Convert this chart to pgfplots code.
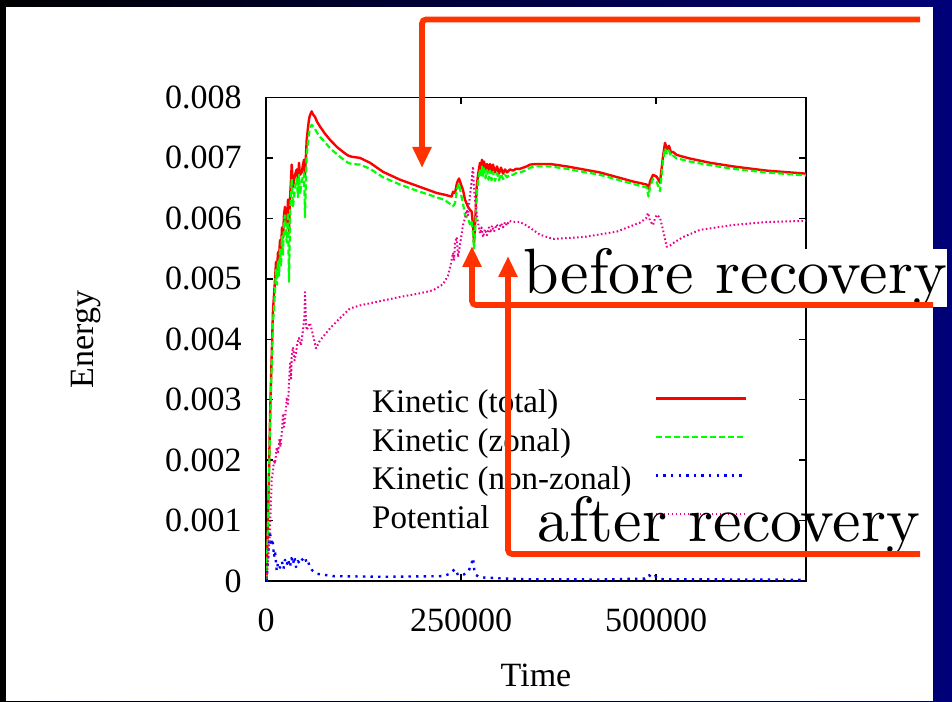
\documentclass[border=0pt]{standalone}
\usepackage{fontspec}
\setmainfont{Liberation Serif}
\newfontfamily\lmfont{lmroman10-regular}[Extension=.otf]
\usepackage{pgfplots}
\pgfplotsset{compat=1.18}
\usetikzlibrary{arrows.meta}

\definecolor{navybg}{RGB}{0,0,120}
\definecolor{arrowred}{RGB}{255,51,0}

\begin{document}
\begin{tikzpicture}[x=0.5pt,y=0.5pt]
\useasboundingbox (0,0) rectangle (952,701);
\shade[left color=black, right color=navybg] (0,0) rectangle (952,701);
\fill[white] (6,0) rectangle (933,694);

\begin{axis}[
    at={(133pt,60pt)}, anchor=south west,
    scale only axis,
    width=270pt, height=241.75pt,
    xmin=0, xmax=692000,
    ymin=0, ymax=0.008,
    axis line style={line width=0.7pt},
    tick style={black, line width=0.7pt},
    major tick length=3.5pt,
    tick align=inside,
    scaled ticks=false,
    xtick={0,250000,500000},
    xticklabels={0,250000,500000},
    ytick={0,0.001,0.002,0.003,0.004,0.005,0.006,0.007,0.008},
    yticklabels={0,0.001,0.002,0.003,0.004,0.005,0.006,0.007,0.008},
    tick label style={font=\fontsize{17}{20}\selectfont, inner sep=0pt},
    yticklabel style={xshift=-12pt},
    xticklabel style={yshift=-13.5pt},
    xlabel={Time}, ylabel={Energy},
    every axis x label/.style={at={(axis description cs:0.5,-0.219)}, anchor=base,
        font=\fontsize{17}{20}\selectfont},
    every axis y label/.style={at={(axis description cs:-0.333,0.5)}, rotate=90, anchor=center,
        font=\fontsize{17}{20}\selectfont},
    legend cell align=left,
    legend plot pos=right,
    legend image code/.code={\draw[#1] (0pt,4.5pt) -- (45pt,4.5pt);},
    legend style={draw=none, fill=none, at={(axis description cs:0.196,0.399)},
        anchor=north west, inner sep=0pt, row sep=0pt, column sep=11.5pt,
        font=\fontsize{16.5}{19}\selectfont,
        nodes={inner sep=0pt, text height=12.2pt, text depth=7pt}},
]
% kinetic energy, total
\addplot[red, line width=1.2pt, line join=round] coordinates {
(640,0) (2560,0.00100) (3840,0.00183) (5130,0.00266) (6410,0.00332) (7690,0.00390)
(8970,0.00448) (10250,0.00473) (11530,0.00498) (12820,0.00528) (14100,0.00515)
(15380,0.00544) (16660,0.00535) (17940,0.00564) (19220,0.00548) (20500,0.00585)
(21780,0.00568) (23070,0.00606) (24350,0.00619) (25630,0.00601) (26910,0.00589)
(28190,0.00631) (29470,0.00576) (30760,0.00631) (32040,0.00664) (32940,0.00689)
(34600,0.00652) (37160,0.00672) (39340,0.00681) (41010,0.00664) (42290,0.00692)
(43570,0.00672) (45750,0.00676) (47420,0.00689) (48700,0.00697) (49980,0.00672)
(52160,0.00730) (53820,0.00750) (55100,0.00764) (56390,0.00771) (58560,0.00777)
(60230,0.00772) (62790,0.00768) (65360,0.00760) (69200,0.00752) (75610,0.00740)
(82020,0.00730) (90990,0.00718) (98680,0.00710) (105080,0.00704) (109820,0.00702)
(120460,0.00700) (133280,0.00692) (149940,0.00677) (171720,0.00664) (197350,0.00652)
(218750,0.00642) (229390,0.00639) (237970,0.00636) (239640,0.00644) (242200,0.00642)
(244770,0.00659) (247330,0.00666) (249890,0.00656) (252460,0.00647) (255020,0.00631)
(258860,0.00619) (261430,0.00614) (263600,0.00611) (265270,0.00589) (266550,0.00559)
(268470,0.00606) (270010,0.00652) (271680,0.00672) (274240,0.00692) (275520,0.00681)
(276800,0.00697) (278090,0.00684) (279370,0.00694) (281290,0.00681) (283210,0.00690)
(285140,0.00679) (287060,0.00690) (288980,0.00677) (290900,0.00689) (293460,0.00676)
(296030,0.00686) (298590,0.00674) (301150,0.00684) (303720,0.00674) (306280,0.00681)
(308840,0.00676) (312690,0.00681) (316530,0.00679) (320380,0.00682) (325500,0.00682)
(334090,0.00686) (338320,0.00689) (346900,0.00690) (363950,0.00690) (385350,0.00686)
(428020,0.00676) (470310,0.00661) (487870,0.00656) (490180,0.00649) (492100,0.00661)
(495950,0.00672) (500690,0.00669) (504920,0.00659) (506840,0.00681) (508760,0.00702)
(511320,0.00725) (513890,0.00714) (516450,0.00720) (519020,0.00709) (521580,0.00710)
(526320,0.00705) (534400,0.00702) (543370,0.00699) (569000,0.00692) (598470,0.00686)
(641650,0.00679) (692010,0.00674)
};
% kinetic energy, zonal
\addplot[green, line width=1.1pt, dash pattern=on 3pt off 1.5pt, line join=round] coordinates {
(640,0) (2560,0.00090) (3840,0.00170) (5130,0.00250) (6410,0.00315) (7690,0.00370)
(8970,0.00430) (10250,0.00450) (11530,0.00480) (12820,0.00515) (14100,0.00490)
(15380,0.00530) (16660,0.00505) (17940,0.00550) (19220,0.00520) (20500,0.00570)
(21780,0.00540) (23070,0.00595) (24350,0.00605) (25630,0.00570) (26910,0.00560)
(28190,0.00610) (29470,0.00495) (30760,0.00600) (32040,0.00640) (32940,0.00665)
(34600,0.00620) (37160,0.00650) (39340,0.00665) (41010,0.00635) (42290,0.00672)
(43570,0.00640) (45750,0.00660) (47420,0.00670) (48700,0.00675) (49980,0.00602)
(52160,0.00705) (53820,0.00725) (55100,0.00740) (56390,0.00750) (58560,0.00755)
(60230,0.00752) (62790,0.00748) (65360,0.00742) (69200,0.00735) (75610,0.00726)
(82020,0.00716) (90990,0.00706) (98680,0.00698) (105080,0.00692) (109820,0.00690)
(120460,0.00689) (133280,0.00682) (149940,0.00668) (171720,0.00656) (197350,0.00644)
(218750,0.00635) (229390,0.00630) (237970,0.00622) (239640,0.00620) (242200,0.00625)
(244770,0.00648) (247330,0.00658) (249890,0.00640) (252460,0.00625) (255020,0.00605)
(258860,0.00600) (261430,0.00590) (263600,0.00596) (265270,0.00575) (266550,0.00550)
(268470,0.00590) (270010,0.00640) (271680,0.00660) (274240,0.00682) (275520,0.00668)
(276800,0.00686) (278090,0.00670) (279370,0.00683) (281290,0.00666) (283210,0.00680)
(285140,0.00664) (287060,0.00679) (288980,0.00663) (290900,0.00677) (293460,0.00662)
(296030,0.00675) (298590,0.00663) (301150,0.00674) (303720,0.00665) (306280,0.00672)
(308840,0.00668) (312690,0.00673) (316530,0.00672) (320380,0.00675) (325500,0.00676)
(334090,0.00680) (338320,0.00684) (346900,0.00686) (363950,0.00686) (385350,0.00682)
(428020,0.00672) (470310,0.00657) (487870,0.00651) (490180,0.00636) (492100,0.00652)
(495950,0.00665) (500690,0.00660) (504920,0.00645) (506840,0.00670) (508760,0.00695)
(511320,0.00716) (513890,0.00706) (516450,0.00712) (519020,0.00702) (521580,0.00704)
(526320,0.00699) (534400,0.00697) (543370,0.00694) (569000,0.00688) (598470,0.00682)
(641650,0.00676) (692010,0.00671)
};
% kinetic energy, non-zonal
\addplot[blue, line width=1.2pt, dash pattern=on 1.2pt off 2.6pt, line join=round] coordinates {
(640,0) (2560,0.00033) (3840,0.00060) (5130,0.00083) (6410,0.00058) (7690,0.00070)
(8970,0.00061) (10250,0.00040) (11530,0.00050) (13710,0.00017) (15380,0.00030)
(17940,0.00022) (20500,0.00032) (22430,0.00020) (24350,0.00035) (26530,0.00026)
(28190,0.00036) (30760,0.00023) (32680,0.00038) (34600,0.00028) (36520,0.00040)
(38450,0.00023) (41010,0.00033) (43570,0.00028) (46130,0.00035) (49980,0.00040)
(51900,0.00030) (53820,0.00033) (56390,0.00022) (58950,0.00018) (64970,0.00012)
(85860,0.00008) (149940,0.00007) (226830,0.00008) (235800,0.00012) (242200,0.00020)
(246050,0.00010) (252460,0.00010) (258860,0.00015) (262710,0.00025) (265270,0.00038)
(267190,0.00015) (269120,0.00010) (274240,0.00006) (325500,0.00003) (428020,0.000025)
(485690,0.00004) (490810,0.00010) (494660,0.00005) (498510,0.00008) (504920,0.00003)
(692010,0.00002)
};
% potential energy
\addplot[magenta, line width=1pt, dash pattern=on 0.8pt off 1.2pt, line join=round] coordinates {
(900,0.00005) (2560,0.00033) (5130,0.00083) (7300,0.00166) (8970,0.00183)
(10250,0.00200) (11530,0.00194) (13710,0.00221) (15380,0.00212) (17300,0.00235)
(18580,0.00222) (20120,0.00244) (21780,0.00277) (23070,0.00255) (24350,0.00266)
(26530,0.00304) (28190,0.00290) (29470,0.00330) (30760,0.00360) (32040,0.00335)
(32940,0.00370) (34600,0.00387) (36520,0.00365) (38450,0.00378) (40370,0.00395)
(42290,0.00402) (44850,0.00390) (47420,0.00415) (49340,0.00440) (49980,0.00478)
(51260,0.00430) (52160,0.00415) (53820,0.00420) (56390,0.00427) (60230,0.00407)
(64080,0.00385) (69200,0.00398) (82020,0.00418) (94830,0.00435) (107650,0.00451)
(120460,0.00456) (146090,0.00463) (171720,0.00470) (197350,0.00476) (214010,0.00481)
(226830,0.00491) (233240,0.00505) (237080,0.00526) (239640,0.00543) (240920,0.00530)
(242200,0.00559) (244380,0.00569) (246050,0.00536) (248610,0.00556) (252460,0.00589)
(255020,0.00600) (257190,0.00614) (258860,0.00605) (261430,0.00639) (263350,0.00660)
(265270,0.00686) (266550,0.00650) (267840,0.00631) (269760,0.00610) (271680,0.00593)
(274240,0.00575) (276160,0.00585) (278090,0.00569) (280650,0.00582) (283210,0.00572)
(285780,0.00585) (287700,0.00576) (289620,0.00588) (292180,0.00578) (295640,0.00590)
(298590,0.00582) (301150,0.00592) (303720,0.00585) (306280,0.00594) (308840,0.00588)
(311400,0.00596) (316530,0.00594) (325500,0.00594) (334090,0.00588) (351130,0.00573)
(367790,0.00566) (406240,0.00569) (449420,0.00578) (479280,0.00593) (486970,0.00600)
(489530,0.00609) (492100,0.00596) (495950,0.00589) (498510,0.00600) (501070,0.00606)
(504920,0.00601) (508760,0.00581) (513500,0.00553) (517730,0.00555) (521580,0.00559)
(534400,0.00569) (556190,0.00581) (598470,0.00589) (641650,0.00594) (692010,0.00596)
};
\legend{Kinetic (total), Kinetic (zonal), Kinetic (non-zonal), Potential}
\end{axis}

% annotations
\node[anchor=base west, inner sep=0pt, fill=white, font=\lmfont\fontsize{32}{36}\selectfont] at (523,407) {before recovery};
\node[anchor=base west, inner sep=0pt, font=\lmfont\fontsize{32}{36}\selectfont] at (537,159) {after recovery};
\draw[arrowred, line width=2.85pt, rounded corners=2pt, -{Triangle[width=9pt,length=10.5pt]}]
    (920,681.5) -- (422,681.5) -- (422,533);
\draw[arrowred, line width=2.85pt, rounded corners=2pt, -{Triangle[width=9pt,length=10.5pt]}]
    (933,396) -- (472,396) -- (472,455);
\draw[arrowred, line width=2.85pt, rounded corners=2pt, -{Triangle[width=9pt,length=10.5pt]}]
    (920,147) -- (508,147) -- (508,445);
\end{tikzpicture}
\end{document}
